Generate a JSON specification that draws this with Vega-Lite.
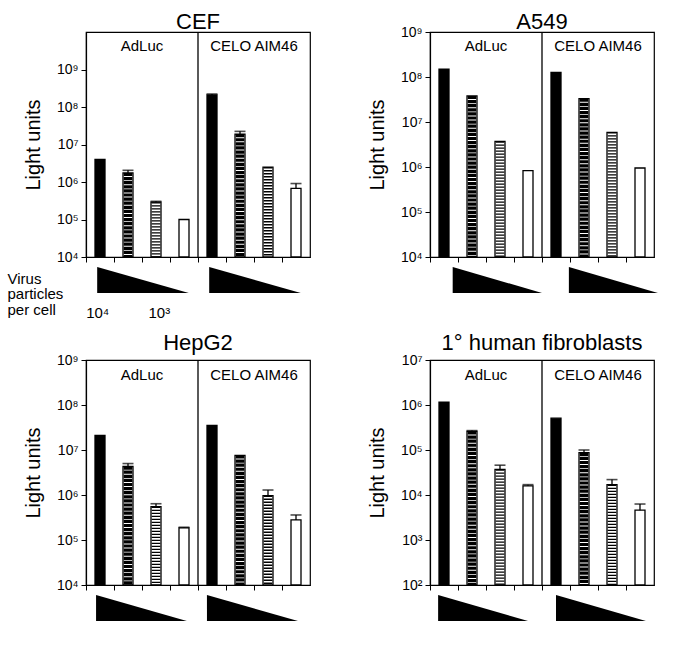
{
"$schema": "https://vega.github.io/schema/vega-lite/v6.json",
"background": "white",
"padding": {"left": 7, "top": 10, "right": 5, "bottom": 5},
"datasets": {
"bars": [
{"cell":"CEF","virus":"AdLuc","dose":"1","bar":"AdLuc-1","value":4000000},
{"cell":"CEF","virus":"AdLuc","dose":"2","bar":"AdLuc-2","value":1750000,"hi":2050000},
{"cell":"CEF","virus":"AdLuc","dose":"3","bar":"AdLuc-3","value":290000,"hi":305000},
{"cell":"CEF","virus":"AdLuc","dose":"4","bar":"AdLuc-4","value":100000},
{"cell":"CEF","virus":"CELO AIM46","dose":"1","bar":"CELO AIM46-1","value":210000000,"hi":222000000},
{"cell":"CEF","virus":"CELO AIM46","dose":"2","bar":"CELO AIM46-2","value":19000000,"hi":22400000},
{"cell":"CEF","virus":"CELO AIM46","dose":"3","bar":"CELO AIM46-3","value":2500000},
{"cell":"CEF","virus":"CELO AIM46","dose":"4","bar":"CELO AIM46-4","value":680000,"hi":910000},
{"cell":"A549","virus":"AdLuc","dose":"1","bar":"AdLuc-1","value":150000000},
{"cell":"A549","virus":"AdLuc","dose":"2","bar":"AdLuc-2","value":38000000},
{"cell":"A549","virus":"AdLuc","dose":"3","bar":"AdLuc-3","value":3700000},
{"cell":"A549","virus":"AdLuc","dose":"4","bar":"AdLuc-4","value":830000},
{"cell":"A549","virus":"CELO AIM46","dose":"1","bar":"CELO AIM46-1","value":126000000},
{"cell":"A549","virus":"CELO AIM46","dose":"2","bar":"CELO AIM46-2","value":33000000},
{"cell":"A549","virus":"CELO AIM46","dose":"3","bar":"CELO AIM46-3","value":5900000},
{"cell":"A549","virus":"CELO AIM46","dose":"4","bar":"CELO AIM46-4","value":950000},
{"cell":"HepG2","virus":"AdLuc","dose":"1","bar":"AdLuc-1","value":21000000},
{"cell":"HepG2","virus":"AdLuc","dose":"2","bar":"AdLuc-2","value":4300000,"hi":5000000},
{"cell":"HepG2","virus":"AdLuc","dose":"3","bar":"AdLuc-3","value":550000,"hi":640000},
{"cell":"HepG2","virus":"AdLuc","dose":"4","bar":"AdLuc-4","value":186000,"hi":192000},
{"cell":"HepG2","virus":"CELO AIM46","dose":"1","bar":"CELO AIM46-1","value":35000000},
{"cell":"HepG2","virus":"CELO AIM46","dose":"2","bar":"CELO AIM46-2","value":7600000},
{"cell":"HepG2","virus":"CELO AIM46","dose":"3","bar":"CELO AIM46-3","value":970000,"hi":1290000},
{"cell":"HepG2","virus":"CELO AIM46","dose":"4","bar":"CELO AIM46-4","value":280000,"hi":360000},
{"cell":"Fib","virus":"AdLuc","dose":"1","bar":"AdLuc-1","value":1150000},
{"cell":"Fib","virus":"AdLuc","dose":"2","bar":"AdLuc-2","value":260000,"hi":270000},
{"cell":"Fib","virus":"AdLuc","dose":"3","bar":"AdLuc-3","value":37000,"hi":46000},
{"cell":"Fib","virus":"AdLuc","dose":"4","bar":"AdLuc-4","value":16000,"hi":17000},
{"cell":"Fib","virus":"CELO AIM46","dose":"1","bar":"CELO AIM46-1","value":510000},
{"cell":"Fib","virus":"CELO AIM46","dose":"2","bar":"CELO AIM46-2","value":87000,"hi":100000},
{"cell":"Fib","virus":"CELO AIM46","dose":"3","bar":"CELO AIM46-3","value":17000,"hi":22000},
{"cell":"Fib","virus":"CELO AIM46","dose":"4","bar":"CELO AIM46-4","value":4600,"hi":6300}
],
"tri": [
{"cell":"CEF","virus":"AdLuc","x":0.4,"h":1},{"cell":"CEF","virus":"AdLuc","x":3.67,"h":0},
{"cell":"CEF","virus":"CELO AIM46","x":4.4,"h":1},{"cell":"CEF","virus":"CELO AIM46","x":7.67,"h":0},
{"cell":"A549","virus":"AdLuc","x":0.81,"h":1},{"cell":"A549","virus":"AdLuc","x":4.0,"h":0},
{"cell":"A549","virus":"CELO AIM46","x":4.96,"h":1},{"cell":"A549","virus":"CELO AIM46","x":8.14,"h":0},
{"cell":"HepG2","virus":"AdLuc","x":0.36,"h":1},{"cell":"HepG2","virus":"AdLuc","x":3.6,"h":0},
{"cell":"HepG2","virus":"CELO AIM46","x":4.32,"h":1},{"cell":"HepG2","virus":"CELO AIM46","x":7.57,"h":0},
{"cell":"Fib","virus":"AdLuc","x":0.29,"h":1},{"cell":"Fib","virus":"AdLuc","x":3.5,"h":0},
{"cell":"Fib","virus":"CELO AIM46","x":4.5,"h":1},{"cell":"Fib","virus":"CELO AIM46","x":7.71,"h":0}
]
},
"columns": 2,
"align": "each",
"bounds": "flush",
"spacing": {"row": 10, "column": 120},
"concat": [
{
"title": {"text": "CEF", "offset": -3},
"width": 224, "height": 225,
"data": {"name": "bars"},
"transform": [{"filter": "datum.cell === 'CEF'"}],
"layer": [
{"mark": {"type": "bar", "width": 10, "stroke": "black", "strokeWidth": 1.3},
"encoding": {
"x": {"field": "bar", "type": "nominal", "scale": {"domain": ["AdLuc-1","AdLuc-2","AdLuc-3","AdLuc-4","CELO AIM46-1","CELO AIM46-2","CELO AIM46-3","CELO AIM46-4"], "paddingInner": 0, "paddingOuter": 0}, "axis": {"labels": false, "title": null, "bandPosition": 0, "tickSize": 5}},
"y": {"field": "value", "type": "quantitative", "scale": {"type": "log", "domain": [10000, 10000000000], "nice": false}, "axis": {"title": "Light units", "values": [10000,100000,1000000,10000000,100000000,1000000000], "labelExpr": "'10' + ['⁰','¹','²','³','⁴','⁵','⁶','⁷','⁸','⁹'][round(log(datum.value)/LN10)]", "tickSize": 5, "labelPadding": 3, "titlePadding": 13}},
"y2": {"datum": 10000},
"fill": {"field": "dose", "type": "nominal", "scale": {"domain": ["1","2","3","4"], "range": ["black","white","white","white"]}, "legend": null}
}},
{"transform": [{"filter": "datum.dose === '2' || datum.dose === '3'"}],
"mark": {"type": "rule", "strokeWidth": 8.6, "strokeCap": "butt", "color": "black"},
"encoding": {
"x": {"field": "bar", "type": "nominal"},
"y": {"field": "value", "type": "quantitative"},
"y2": {"datum": 10000},
"strokeDash": {"field": "dose", "type": "nominal", "scale": {"domain": ["2","3"], "range": [[3.2,0.9],[1.3,1.7]]}, "legend": null}
}},
{"transform": [{"filter": "isValid(datum.hi)"}],
"mark": {"type": "rule", "strokeWidth": 1.3, "color": "black"},
"encoding": {"x": {"field": "bar", "type": "nominal"}, "y": {"field": "value", "type": "quantitative"}, "y2": {"field": "hi"}}},
{"transform": [{"filter": "isValid(datum.hi)"}],
"mark": {"type": "tick", "orient": "horizontal", "size": 11, "thickness": 1.6, "color": "black"},
"encoding": {"x": {"field": "bar", "type": "nominal"}, "y": {"field": "hi", "type": "quantitative"}}},
{"data": {"values": [{}]},
"mark": {"type": "rule", "strokeWidth": 1.3, "color": "black"},
"encoding": {"x": {"datum": "CELO AIM46-1", "type": "nominal", "bandPosition": 0}}},
{"data": {"values": [{}]},
"mark": {"type": "text", "text": "AdLuc", "fontSize": 15, "baseline": "alphabetic", "align": "center"},
"encoding": {"x": {"datum": "AdLuc-3", "type": "nominal", "bandPosition": 0}, "y": {"datum": 3100000000, "type": "quantitative"}}},
{"data": {"values": [{}]},
"mark": {"type": "text", "text": "CELO AIM46", "fontSize": 15, "baseline": "alphabetic", "align": "center"},
"encoding": {"x": {"datum": "CELO AIM46-3", "type": "nominal", "bandPosition": 0}, "y": {"datum": 3100000000, "type": "quantitative"}}}
]
},
{
"title": {"text": "A549", "offset": -9},
"width": 224, "height": 225,
"data": {"name": "bars"},
"transform": [{"filter": "datum.cell === 'A549'"}],
"layer": [
{"mark": {"type": "bar", "width": 10, "stroke": "black", "strokeWidth": 1.3},
"encoding": {
"x": {"field": "bar", "type": "nominal", "scale": {"domain": ["AdLuc-1","AdLuc-2","AdLuc-3","AdLuc-4","CELO AIM46-1","CELO AIM46-2","CELO AIM46-3","CELO AIM46-4"], "paddingInner": 0, "paddingOuter": 0}, "axis": {"labels": false, "title": null, "bandPosition": 0, "tickSize": 5}},
"y": {"field": "value", "type": "quantitative", "scale": {"type": "log", "domain": [10000, 1000000000], "nice": false}, "axis": {"title": "Light units", "values": [10000,100000,1000000,10000000,100000000,1000000000], "labelExpr": "'10' + ['⁰','¹','²','³','⁴','⁵','⁶','⁷','⁸','⁹'][round(log(datum.value)/LN10)]", "tickSize": 5, "labelPadding": 3, "titlePadding": 13}},
"y2": {"datum": 10000},
"fill": {"field": "dose", "type": "nominal", "scale": {"domain": ["1","2","3","4"], "range": ["black","white","white","white"]}, "legend": null}
}},
{"transform": [{"filter": "datum.dose === '2' || datum.dose === '3'"}],
"mark": {"type": "rule", "strokeWidth": 8.6, "strokeCap": "butt", "color": "black"},
"encoding": {
"x": {"field": "bar", "type": "nominal"},
"y": {"field": "value", "type": "quantitative"},
"y2": {"datum": 10000},
"strokeDash": {"field": "dose", "type": "nominal", "scale": {"domain": ["2","3"], "range": [[3.2,0.9],[1.3,1.7]]}, "legend": null}
}},
{"data": {"values": [{}]},
"mark": {"type": "rule", "strokeWidth": 1.3, "color": "black"},
"encoding": {"x": {"datum": "CELO AIM46-1", "type": "nominal", "bandPosition": 0}}},
{"data": {"values": [{}]},
"mark": {"type": "text", "text": "AdLuc", "fontSize": 15, "baseline": "alphabetic", "align": "center"},
"encoding": {"x": {"datum": "AdLuc-3", "type": "nominal", "bandPosition": 0}, "y": {"datum": 380000000, "type": "quantitative"}}},
{"data": {"values": [{}]},
"mark": {"type": "text", "text": "CELO AIM46", "fontSize": 15, "baseline": "alphabetic", "align": "center"},
"encoding": {"x": {"datum": "CELO AIM46-3", "type": "nominal", "bandPosition": 0}, "y": {"datum": 380000000, "type": "quantitative"}}}
]
},
{
"width": 224, "height": 83,
"view": {"stroke": null},
"data": {"name": "tri"},
"transform": [{"filter": "datum.cell === 'CEF'"}],
"mark": {"type": "area", "color": "black"},
"encoding": {
"x": {"field": "x", "type": "quantitative", "scale": {"domain": [0, 8], "nice": false, "zero": false}, "axis": {"values": [0.4, 2.6], "labelExpr": "datum.value < 1 ? '10⁴' : '10³'", "ticks": false, "domain": false, "title": null, "labelPadding": -33, "labelBaseline": "alphabetic", "labelFontSize": 15, "labelFlush": false, "labelOverlap": false}},
"y": {"field": "h", "type": "quantitative", "scale": {"domain": [-2.1923, 1], "nice": false, "zero": false}, "axis": {"title": ["Virus", "particles", "per cell"], "titleAngle": 0, "titleAlign": "left", "titleBaseline": "alphabetic", "titleX": -79, "titleY": 16, "titleFontSize": 15, "titleLineHeight": 15.5, "labels": false, "ticks": false, "domain": false}},
"y2": {"datum": 0},
"detail": {"field": "virus", "type": "nominal"}
}
},
{
"width": 224, "height": 83,
"view": {"stroke": null},
"data": {"name": "tri"},
"transform": [{"filter": "datum.cell === 'A549'"}],
"mark": {"type": "area", "color": "black"},
"encoding": {
"x": {"field": "x", "type": "quantitative", "scale": {"domain": [0, 8], "nice": false, "zero": false}, "axis": null},
"y": {"field": "h", "type": "quantitative", "scale": {"domain": [-2.1923, 1], "nice": false, "zero": false}, "axis": null},
"y2": {"datum": 0},
"detail": {"field": "virus", "type": "nominal"}
}
},
{
"title": {"text": "HepG2", "offset": -2},
"width": 224, "height": 225,
"data": {"name": "bars"},
"transform": [{"filter": "datum.cell === 'HepG2'"}],
"layer": [
{"mark": {"type": "bar", "width": 10, "stroke": "black", "strokeWidth": 1.3},
"encoding": {
"x": {"field": "bar", "type": "nominal", "scale": {"domain": ["AdLuc-1","AdLuc-2","AdLuc-3","AdLuc-4","CELO AIM46-1","CELO AIM46-2","CELO AIM46-3","CELO AIM46-4"], "paddingInner": 0, "paddingOuter": 0}, "axis": {"labels": false, "title": null, "bandPosition": 0, "tickSize": 5}},
"y": {"field": "value", "type": "quantitative", "scale": {"type": "log", "domain": [10000, 1000000000], "nice": false}, "axis": {"title": "Light units", "values": [10000,100000,1000000,10000000,100000000,1000000000], "labelExpr": "'10' + ['⁰','¹','²','³','⁴','⁵','⁶','⁷','⁸','⁹'][round(log(datum.value)/LN10)]", "tickSize": 5, "labelPadding": 3, "titlePadding": 13}},
"y2": {"datum": 10000},
"fill": {"field": "dose", "type": "nominal", "scale": {"domain": ["1","2","3","4"], "range": ["black","white","white","white"]}, "legend": null}
}},
{"transform": [{"filter": "datum.dose === '2' || datum.dose === '3'"}],
"mark": {"type": "rule", "strokeWidth": 8.6, "strokeCap": "butt", "color": "black"},
"encoding": {
"x": {"field": "bar", "type": "nominal"},
"y": {"field": "value", "type": "quantitative"},
"y2": {"datum": 10000},
"strokeDash": {"field": "dose", "type": "nominal", "scale": {"domain": ["2","3"], "range": [[3.2,0.9],[1.3,1.7]]}, "legend": null}
}},
{"transform": [{"filter": "isValid(datum.hi)"}],
"mark": {"type": "rule", "strokeWidth": 1.3, "color": "black"},
"encoding": {"x": {"field": "bar", "type": "nominal"}, "y": {"field": "value", "type": "quantitative"}, "y2": {"field": "hi"}}},
{"transform": [{"filter": "isValid(datum.hi)"}],
"mark": {"type": "tick", "orient": "horizontal", "size": 11, "thickness": 1.6, "color": "black"},
"encoding": {"x": {"field": "bar", "type": "nominal"}, "y": {"field": "hi", "type": "quantitative"}}},
{"data": {"values": [{}]},
"mark": {"type": "rule", "strokeWidth": 1.3, "color": "black"},
"encoding": {"x": {"datum": "CELO AIM46-1", "type": "nominal", "bandPosition": 0}}},
{"data": {"values": [{}]},
"mark": {"type": "text", "text": "AdLuc", "fontSize": 15, "baseline": "alphabetic", "align": "center"},
"encoding": {"x": {"datum": "AdLuc-3", "type": "nominal", "bandPosition": 0}, "y": {"datum": 360000000, "type": "quantitative"}}},
{"data": {"values": [{}]},
"mark": {"type": "text", "text": "CELO AIM46", "fontSize": 15, "baseline": "alphabetic", "align": "center"},
"encoding": {"x": {"datum": "CELO AIM46-3", "type": "nominal", "bandPosition": 0}, "y": {"datum": 360000000, "type": "quantitative"}}}
]
},
{
"title": {"text": "1° human fibroblasts", "offset": -2},
"width": 224, "height": 225,
"data": {"name": "bars"},
"transform": [{"filter": "datum.cell === 'Fib'"}],
"layer": [
{"mark": {"type": "bar", "width": 10, "stroke": "black", "strokeWidth": 1.3},
"encoding": {
"x": {"field": "bar", "type": "nominal", "scale": {"domain": ["AdLuc-1","AdLuc-2","AdLuc-3","AdLuc-4","CELO AIM46-1","CELO AIM46-2","CELO AIM46-3","CELO AIM46-4"], "paddingInner": 0, "paddingOuter": 0}, "axis": {"labels": false, "title": null, "bandPosition": 0, "tickSize": 5}},
"y": {"field": "value", "type": "quantitative", "scale": {"type": "log", "domain": [100, 10000000], "nice": false}, "axis": {"title": "Light units", "values": [100,1000,10000,100000,1000000,10000000], "labelExpr": "'10' + ['⁰','¹','²','³','⁴','⁵','⁶','⁷','⁸','⁹'][round(log(datum.value)/LN10)]", "tickSize": 5, "labelPadding": 3, "titlePadding": 13}},
"y2": {"datum": 100},
"fill": {"field": "dose", "type": "nominal", "scale": {"domain": ["1","2","3","4"], "range": ["black","white","white","white"]}, "legend": null}
}},
{"transform": [{"filter": "datum.dose === '2' || datum.dose === '3'"}],
"mark": {"type": "rule", "strokeWidth": 8.6, "strokeCap": "butt", "color": "black"},
"encoding": {
"x": {"field": "bar", "type": "nominal"},
"y": {"field": "value", "type": "quantitative"},
"y2": {"datum": 100},
"strokeDash": {"field": "dose", "type": "nominal", "scale": {"domain": ["2","3"], "range": [[3.2,0.9],[1.3,1.7]]}, "legend": null}
}},
{"transform": [{"filter": "isValid(datum.hi)"}],
"mark": {"type": "rule", "strokeWidth": 1.3, "color": "black"},
"encoding": {"x": {"field": "bar", "type": "nominal"}, "y": {"field": "value", "type": "quantitative"}, "y2": {"field": "hi"}}},
{"transform": [{"filter": "isValid(datum.hi)"}],
"mark": {"type": "tick", "orient": "horizontal", "size": 11, "thickness": 1.6, "color": "black"},
"encoding": {"x": {"field": "bar", "type": "nominal"}, "y": {"field": "hi", "type": "quantitative"}}},
{"data": {"values": [{}]},
"mark": {"type": "rule", "strokeWidth": 1.3, "color": "black"},
"encoding": {"x": {"datum": "CELO AIM46-1", "type": "nominal", "bandPosition": 0}}},
{"data": {"values": [{}]},
"mark": {"type": "text", "text": "AdLuc", "fontSize": 15, "baseline": "alphabetic", "align": "center"},
"encoding": {"x": {"datum": "AdLuc-3", "type": "nominal", "bandPosition": 0}, "y": {"datum": 3600000, "type": "quantitative"}}},
{"data": {"values": [{}]},
"mark": {"type": "text", "text": "CELO AIM46", "fontSize": 15, "baseline": "alphabetic", "align": "center"},
"encoding": {"x": {"datum": "CELO AIM46-3", "type": "nominal", "bandPosition": 0}, "y": {"datum": 3600000, "type": "quantitative"}}}
]
},
{
"width": 224, "height": 26,
"view": {"stroke": null},
"data": {"name": "tri"},
"transform": [{"filter": "datum.cell === 'HepG2'"}],
"mark": {"type": "area", "color": "black"},
"encoding": {
"x": {"field": "x", "type": "quantitative", "scale": {"domain": [0, 8], "nice": false, "zero": false}, "axis": null},
"y": {"field": "h", "type": "quantitative", "scale": {"domain": [0, 1], "nice": false}, "axis": null},
"y2": {"datum": 0},
"detail": {"field": "virus", "type": "nominal"}
}
},
{
"width": 224, "height": 26,
"view": {"stroke": null},
"data": {"name": "tri"},
"transform": [{"filter": "datum.cell === 'Fib'"}],
"mark": {"type": "area", "color": "black"},
"encoding": {
"x": {"field": "x", "type": "quantitative", "scale": {"domain": [0, 8], "nice": false, "zero": false}, "axis": null},
"y": {"field": "h", "type": "quantitative", "scale": {"domain": [0, 1], "nice": false}, "axis": null},
"y2": {"datum": 0},
"detail": {"field": "virus", "type": "nominal"}
}
}
],
"config": {
"font": "Liberation Sans",
"view": {"stroke": "black", "strokeWidth": 1.2},
"axis": {"grid": false, "domainColor": "black", "tickColor": "black", "labelColor": "black", "titleColor": "black", "domainWidth": 1.2, "tickWidth": 1, "labelFontSize": 14, "titleFontSize": 20, "titleFontWeight": "normal"},
"title": {"fontSize": 22, "fontWeight": "normal", "color": "black", "baseline": "alphabetic", "frame": "group", "anchor": "middle"},
"text": {"color": "black"}
}
}
